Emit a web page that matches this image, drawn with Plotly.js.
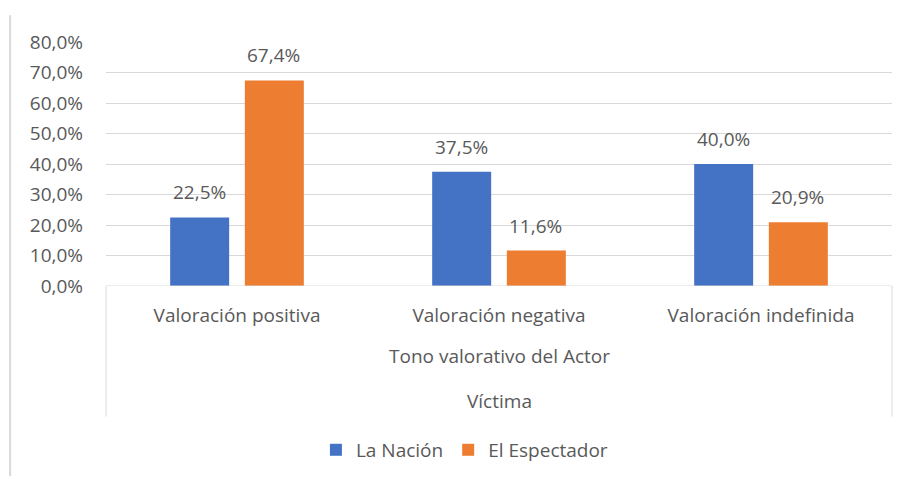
<!DOCTYPE html>
<html>
<head>
<meta charset="utf-8">
<script src="https://cdn.plot.ly/plotly-3.0.1.min.js"></script>
<style>html,body{margin:0;padding:0;background:#fff;}#chart{width:905px;height:479px;}</style>
</head>
<body>
<div id="chart"></div>
<script>
const categories = ["Valoración positiva", "Valoración negativa", "Valoración indefinida"];
const laNacion = [22.5, 37.5, 40.0];
const elEspectador = [67.4, 11.6, 20.9];
const seriesNames = ["La Nación", "El Espectador"];
const yTickVals = [0, 10, 20, 30, 40, 50, 60, 70, 80];
const yTickText = ["0,0%", "10,0%", "20,0%", "30,0%", "40,0%", "50,0%", "60,0%", "70,0%", "80,0%"];
const level2Label = "Tono valorativo del Actor";
const level3Label = "Víctima";

const FONT = "Open Sans, sans-serif";
const FS = 19;
const GRAY = "#595959";
const LINE = "#d9d9d9";

const traces = [
  {type: "bar", x: categories, y: laNacion, name: seriesNames[0], marker: {color: "#4472c4"}, hoverinfo: "none"},
  {type: "bar", x: categories, y: elEspectador, name: seriesNames[1], marker: {color: "#ed7d31"}, hoverinfo: "none"}
];

const annotations = [];
[laNacion, elEspectador].forEach((arr, si) => {
  arr.forEach((v, i) => {
    annotations.push({
      x: categories[i], y: v, xref: "x", yref: "y",
      xshift: si === 0 ? -37.5 : 36.5, yshift: 25,
      text: v.toFixed(1).replace(".", ",") + "%",
      showarrow: false, yanchor: "middle",
      font: {family: FONT, size: FS, color: GRAY}
    });
  });
});
annotations.push({x: 0.5, y: -0.285, xref: "paper", yref: "paper", text: level2Label, showarrow: false, yanchor: "middle", font: {family: FONT, size: FS, color: GRAY}});
annotations.push({x: 0.5, y: -0.47, xref: "paper", yref: "paper", text: level3Label, showarrow: false, yanchor: "middle", font: {family: FONT, size: FS, color: GRAY}});

const layout = {
  width: 905, height: 479,
  margin: {l: 106, r: 13, t: 42, b: 192},
  paper_bgcolor: "#fff", plot_bgcolor: "#fff",
  barmode: "group", bargap: 0.43, bargroupgap: 0.21,
  font: {family: FONT, size: FS, color: GRAY},
  xaxis: {
    type: "category", showgrid: false, zeroline: false,
    showline: false, ticks: "", ticklabelstandoff: 16,
    tickfont: {family: FONT, size: FS, color: GRAY}
  },
  yaxis: {
    range: [0, 80], tickmode: "array", tickvals: yTickVals, ticktext: yTickText,
    showgrid: true, gridcolor: LINE, gridwidth: 1, zeroline: false, showline: false,
    ticks: "", ticklabelstandoff: 22,
    tickfont: {family: FONT, size: FS, color: GRAY}
  },
  showlegend: true,
  legend: {orientation: "h", x: 0.456, xanchor: "center", y: -0.665, yanchor: "middle",
    font: {family: FONT, size: FS, color: GRAY}, itemwidth: 30, traceorder: "normal"},
  annotations: annotations,
  shapes: [
    {type: "line", xref: "paper", yref: "y", x0: 0, x1: 1, y0: 0, y1: 0, line: {color: LINE, width: 1}},
    {type: "line", xref: "paper", yref: "paper", x0: 0, x1: 0, y0: 0, y1: -0.535, line: {color: LINE, width: 1}},
    {type: "line", xref: "paper", yref: "paper", x0: 1, x1: 1, y0: 0, y1: -0.535, line: {color: LINE, width: 1}},
    {type: "line", xref: "paper", yref: "paper", x0: -0.122, x1: -0.122, y0: 1.11, y1: -0.78, line: {color: LINE, width: 2}}
  ]
};

Plotly.newPlot("chart", traces, layout, {displayModeBar: false, staticPlot: true});
</script>
</body>
</html>
